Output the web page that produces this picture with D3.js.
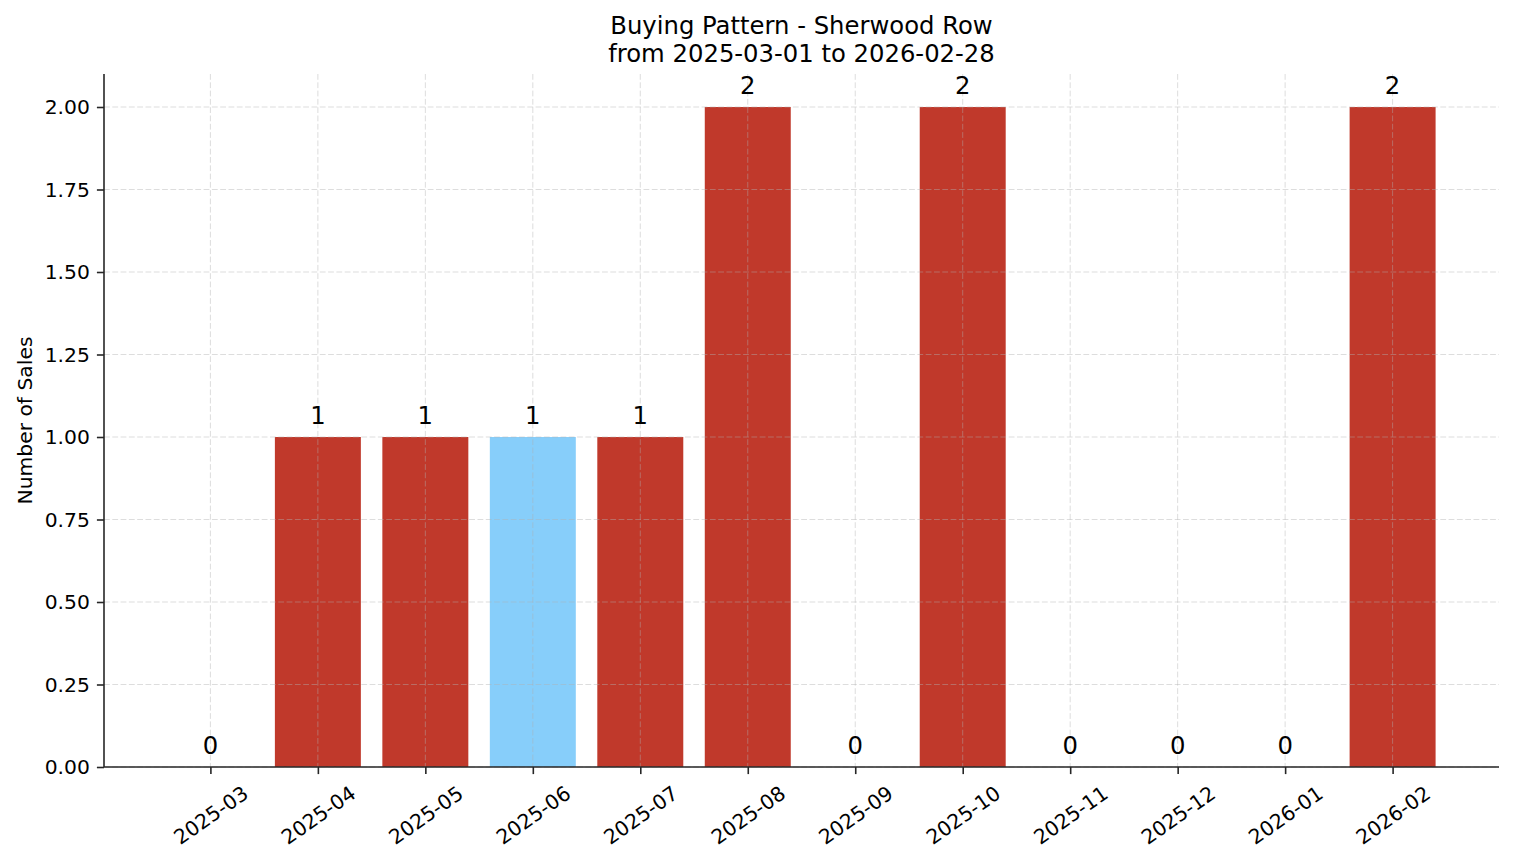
<!DOCTYPE html>
<html>
<head>
<meta charset="utf-8">
<script src="https://cdn.jsdelivr.net/npm/d3@7"></script>
<style>
  body { margin: 0; background: #fff; }
  text { font-family: "DejaVu Sans", sans-serif; fill: #000; }
</style>
</head>
<body>
<div id="chart"></div>
<script>
// data
var months = ['2025-03','2025-04','2025-05','2025-06','2025-07','2025-08',
              '2025-09','2025-10','2025-11','2025-12','2026-01','2026-02'];
var sales = [0, 1, 1, 1, 1, 2, 0, 2, 0, 0, 0, 2];
var highlight = ['2025-06'];
var yTicks = [0, 0.25, 0.5, 0.75, 1, 1.25, 1.5, 1.75, 2];
var titleLines = ['Buying Pattern - Sherwood Row', 'from 2025-03-01 to 2026-02-28'];

var svgW = 1514, svgH = 863;
var margin = {top: 74, left: 104, right: 15, bottom: 96};
var chartW = svgW - margin.left - margin.right;
var chartH = svgH - margin.top - margin.bottom;
var fs = 20.3;      // tick / axis label size
var fsBig = 24.3;   // title and bar labels
var tick = 7.1;

var svg = d3.select('#chart').append('svg')
    .attr('width', svgW)
    .attr('height', svgH);

var chart = svg.append('g')
    .attr('transform', `translate(${margin.left},${margin.top})`);

// matplotlib-like category axis: bars of width .8, 5% margins
var n = months.length;
var lo = -0.4 - 0.05 * (n - 1 + 0.8), hi = n - 1 + 0.4 + 0.05 * (n - 1 + 0.8);
var xpos = d3.scaleLinear().domain([lo, hi]).range([0, chartW]);
var step = xpos(1) - xpos(0);
var yscale = d3.scaleLinear().domain([0, 2.1]).range([chartH, 0]);

// bars
chart.selectAll('rect.bar')
    .data(sales)
    .enter()
    .append('rect')
    .attr('class', 'bar')
    .attr('x', (d, i) => xpos(i - 0.4))
    .attr('width', step * 0.8)
    .attr('y', d => yscale(d))
    .attr('height', d => chartH - yscale(d))
    .attr('fill', (d, i) => highlight.includes(months[i]) ? '#87cefa' : '#c0392b');

// grid sits above the bars like in the original
var grid = chart.append('g')
    .attr('stroke', '#b0b0b0')
    .attr('stroke-opacity', 0.55)
    .attr('stroke-width', 0.8)
    .attr('stroke-dasharray', '5.8,2.5');
grid.selectAll('line.gy')
    .data(yTicks)
    .enter()
    .append('line')
    .attr('x1', 0).attr('x2', chartW)
    .attr('y1', d => yscale(d)).attr('y2', d => yscale(d));
grid.selectAll('line.gx')
    .data(months)
    .enter()
    .append('line')
    .attr('x1', (d, i) => xpos(i)).attr('x2', (d, i) => xpos(i))
    .attr('y1', 0).attr('y2', chartH);

// bar value labels
chart.selectAll('text.val')
    .data(sales)
    .enter()
    .append('text')
    .attr('class', 'val')
    .attr('x', (d, i) => xpos(i))
    .attr('y', d => yscale(d) - 13)
    .attr('text-anchor', 'middle')
    .attr('font-size', fsBig)
    .text(d => d);

// y axis
var yaxis = d3.axisLeft(yscale)
    .tickValues(yTicks)
    .tickFormat(d3.format('.2f'))
    .tickSize(tick)
    .tickPadding(tick);
var yl = chart.append('g').call(yaxis);
yl.selectAll('text').attr('font-size', fs).attr('font-family', 'DejaVu Sans').attr('fill', '#000');

// x axis, labels rotated around their centre
var xaxis = d3.axisBottom(xpos)
    .tickValues(d3.range(n))
    .tickFormat('')
    .tickSize(tick);
var xl = chart.append('g')
    .attr('transform', `translate(0,${chartH})`)
    .call(xaxis);
xl.selectAll('.tick').append('text')
    .attr('y', 48)
    .attr('dy', '0.36em')
    .attr('text-anchor', 'middle')
    .attr('font-size', fs)
    .attr('font-family', 'DejaVu Sans')
    .attr('fill', '#000')
    .attr('transform', 'rotate(-35,0,48)')
    .text((d, i) => months[i]);

// only left/bottom spines
[yl, xl].forEach(function (ax) {
    ax.select('.domain').remove();
    ax.selectAll('.tick line').attr('stroke', '#262626').attr('stroke-width', 1.6);
});
chart.append('line')
    .attr('x1', 0).attr('x2', 0).attr('y1', 0).attr('y2', chartH)
    .attr('stroke', '#262626').attr('stroke-width', 1.6);
chart.append('line')
    .attr('x1', 0).attr('x2', chartW).attr('y1', chartH).attr('y2', chartH)
    .attr('stroke', '#262626').attr('stroke-width', 1.6);

// y label
svg.append('text')
    .attr('transform', `translate(32,${margin.top + chartH / 2}) rotate(-90)`)
    .attr('text-anchor', 'middle')
    .attr('font-size', fs)
    .text('Number of Sales');

// title
svg.selectAll('text.title')
    .data(titleLines)
    .enter()
    .append('text')
    .attr('class', 'title')
    .attr('x', margin.left + chartW / 2)
    .attr('y', (d, i) => 34 + i * 28)
    .attr('text-anchor', 'middle')
    .attr('font-size', fsBig)
    .text(d => d);
</script>
</body>
</html>
